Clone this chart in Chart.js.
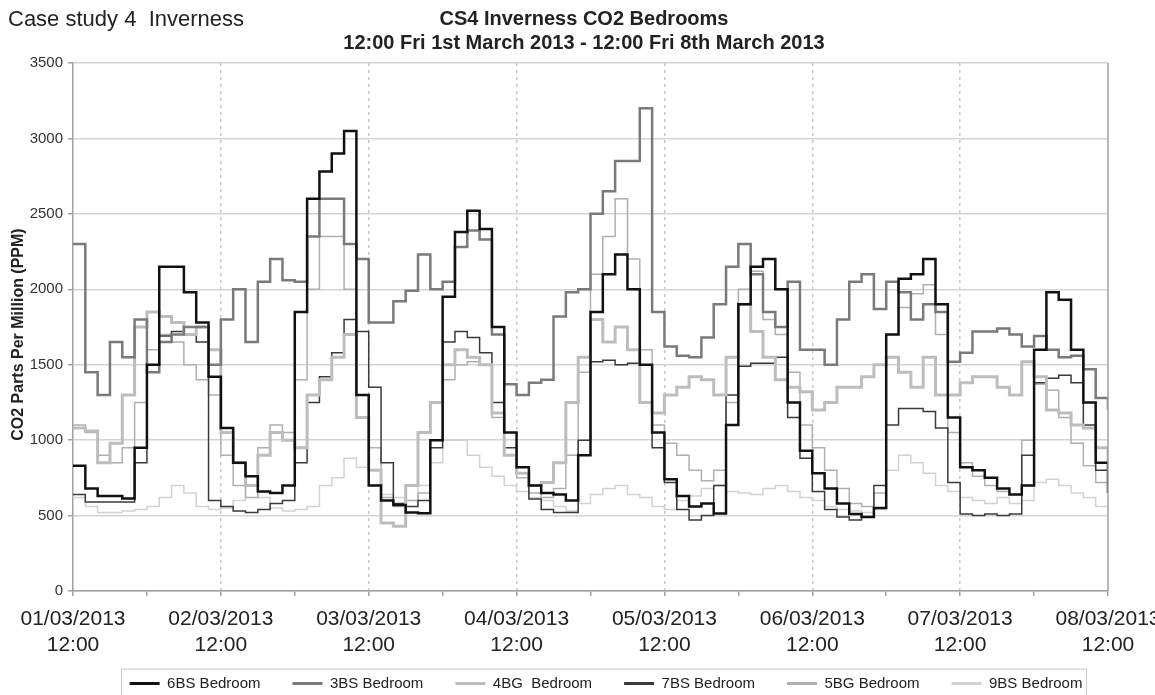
<!DOCTYPE html>
<html>
<head>
<meta charset="utf-8">
<script src="https://cdn.jsdelivr.net/npm/chart.js@4.4.0/dist/chart.umd.min.js"></script>
<style>
  html, body { margin: 0; padding: 0; background: #fff; overflow: hidden; }
  #wrap { position: relative; width: 1175px; height: 716px; }
  #note { position: absolute; left: 8px; top: 6px; font: 22px "Liberation Sans", Arial, sans-serif; color: #222; }
</style>
</head>
<body>
<div id="wrap">
  <canvas id="chart" width="1175" height="716"></canvas>
  <div id="note">Case study 4&nbsp; Inverness</div>
</div>
<script>
// hours since 12:00 Fri 1st March 2013
const hours = [0,2,4,6,8,10,12,14,16,18,20,22,24,26,28,30,32,34,36,38,40,42,44,46,48,50,52,54,56,58,
  60,62,64,66,68,70,72,74,76,78,80,82,84,86,88,90,92,94,96,98,100,102,104,106,108,110,112,114,116,118,
  120,122,124,126,128,130,132,134,136,138,140,142,144,146,148,150,152,154,156,158,160,162,164,166,168];

const dayLabels = ['01/03/2013','02/03/2013','03/03/2013','04/03/2013','05/03/2013','06/03/2013','07/03/2013','08/03/2013'];
const timeLabel = '12:00';
const yTicks = [0,500,1000,1500,2000,2500,3000,3500];
const yTitle = 'CO2 Parts Per Million (PPM)';

// CO2 ppm, every 2 hours (each value holds until the next reading)
const bed6BS = [830,680,630,630,613,950,1500,2150,2150,1980, 1780,1420,1080,850,760,660,650,700,1850,2600,
  2780,2900,3050,1300,700,600,570,520,515,1000, 1950,2380,2520,2400,1750,1050,820,700,650,640,
  600,900,1850,2100,2230,2000,1500,1050,740,630, 560,580,513,1100,1900,2150,2200,2000,1250,930,
  780,680,580,510,490,550,1700,2070,2100,2200, 1900,1150,820,800,750,680,640,700,1600,1980,
  1930,1600,1250,850,650];
const bed3BS = [2300,1450,1300,1650,1550,1800,1450,1650,1700,1750, 1750,1500,1800,2000,1650,2050,2200,2060,2050,2350,
  2600,2600,2300,2200,1780,1780,1920,1990,2230,2000, 2050,2280,2390,2330,1700,1370,1300,1380,1400,1820,
  1980,2000,2500,2650,2850,2850,3200,1850,1620,1560, 1550,1680,1900,2150,2300,2100,1850,1750,2050,1600,
  1600,1500,1800,2050,2100,1870,2050,1980,1800,1900, 1850,1520,1580,1720,1720,1740,1700,1620,1690,1600,
  1550,1560,1470,1280,1200];
const bed4BG = [1080,1060,850,980,1300,1750,1850,1820,1780,1700, 1750,1600,1050,850,700,900,1050,1000,950,1300,
  1400,1550,1700,1150,800,450,430,700,1050,1250, 1500,1600,1550,1500,1180,900,780,700,720,850,
  1250,1550,1800,1650,1750,1600,1250,1180,1300,1350, 1420,1400,1300,1550,1900,1720,1550,1400,1350,1320,
  1200,1250,1350,1350,1420,1500,1550,1450,1350,1550, 1300,1300,1380,1420,1420,1350,1300,1520,1420,1200,
  1180,1100,1080,950,850];
const bed7BS = [640,590,590,590,590,850,1450,1690,1720,1700, 1650,600,560,530,520,540,580,600,850,1250,
  1420,1580,1800,1720,1350,850,580,560,600,950, 1650,1720,1680,1580,1250,950,780,610,540,520,
  520,1000,1520,1530,1500,1510,1250,950,720,540, 470,500,700,1300,1490,1510,1510,1550,1150,880,
  660,540,490,470,490,700,1100,1210,1210,1190, 1080,720,510,500,510,500,510,900,1380,1410,
  1430,1380,1100,800,700];
const bed5BG = [1100,1050,900,850,950,1250,1600,1700,1650,1500, 1400,1300,900,700,620,950,1100,1050,1400,2000,
  2350,2350,2000,1300,950,620,560,600,650,1000, 1400,1500,1520,1500,1150,900,750,650,620,680,
  900,1450,2100,2350,2600,2200,1600,1100,980,900, 800,730,800,1250,2000,2120,1800,1700,1450,1100,
  950,800,680,580,560,650,1700,1880,1970,2030, 1700,1050,850,760,700,660,640,1000,1370,1330,
  1150,980,830,720,660];
const bed9BS = [620,560,520,520,530,540,560,620,700,650, 560,540,550,600,700,620,550,530,540,560,
  700,750,880,820,700,640,620,600,700,850, 1000,1000,900,820,760,700,660,620,600,560,
  530,580,640,680,700,640,620,560,540,600, 630,680,700,660,650,640,680,700,660,620,
  600,560,540,530,520,540,800,900,850,780, 700,660,620,600,580,620,580,600,720,740,
  700,650,620,560,540];

function pts(vals) {
  return hours.map((h, i) => ({ x: h, y: vals[i] }));
}
function series(label, vals, color, width) {
  return {
    label: label,
    data: pts(vals),
    borderColor: color,
    backgroundColor: color,
    borderWidth: width,
    stepped: 'before',
    pointRadius: 0,
    fill: false
  };
}

// nudges title and legend, draws the right edge, the legend box and the y title
const framePlugin = {
  id: 'frame',
  afterLayout(chart) {
    const lg = chart.legend;
    lg.left += 52;
    lg.right += 52;
    lg.top -= 15;
    lg.bottom -= 15;
    chart.titleBlock.left += 30;
    chart.titleBlock.right += 30;
  },
  afterDraw(chart) {
    const ctx = chart.ctx;
    const a = chart.chartArea;
    ctx.save();
    ctx.strokeStyle = '#a0a0a0';
    ctx.lineWidth = 1.5;
    ctx.beginPath();
    ctx.moveTo(a.right, a.top);
    ctx.lineTo(a.right, a.bottom);
    ctx.stroke();
    const boxes = chart.legend.legendHitBoxes;
    if (boxes && boxes.length) {
      const first = boxes[0], last = boxes[boxes.length - 1];
      const l = first.left - 8, r = last.left + last.width + 4;
      const t = first.top - 7;
      ctx.strokeStyle = '#c8c8c8';
      ctx.lineWidth = 1;
      ctx.strokeRect(l, t, r - l, 40);
    }
    const yMid = chart.scales.y.getPixelForValue(1700);
    ctx.translate(19, yMid);
    ctx.rotate(-Math.PI / 2);
    ctx.fillStyle = '#222';
    ctx.font = 'bold 16px "Liberation Sans"';
    ctx.textAlign = 'center';
    ctx.textBaseline = 'middle';
    ctx.fillText(yTitle, 0, 0);
    ctx.restore();
  }
};

new Chart(document.getElementById('chart'), {
  type: 'line',
  data: {
    datasets: [
      series('6BS Bedroom', bed6BS, '#111111', 2.5),
      series('3BS Bedroom', bed3BS, '#7a7a7a', 2.5),
      series('4BG  Bedroom', bed4BG, '#bdbdbd', 3),
      series('7BS Bedroom', bed7BS, '#3a3a3a', 1.5),
      series('5BG Bedroom', bed5BG, '#b0b0b0', 1.5),
      series('9BS Bedroom', bed9BS, '#d2d2d2', 1.5)
    ]
  },
  options: {
    responsive: false,
    animation: false,
    layout: { padding: { left: 0, right: 67, top: 0, bottom: 0 } },
    plugins: {
      title: {
        display: true,
        text: ['CS4 Inverness CO2 Bedrooms', '12:00 Fri 1st March 2013 - 12:00 Fri 8th March 2013'],
        color: '#222',
        font: { family: 'Liberation Sans', size: 20, weight: 'bold', lineHeight: 1.2 },
        padding: { top: 7, bottom: 8 }
      },
      legend: {
        position: 'bottom',
        labels: {
          usePointStyle: true,
          pointStyle: 'line',
          pointStyleWidth: 30,
          padding: 32,
          color: '#222',
          font: { family: 'Liberation Sans', size: 15 },
          generateLabels(chart) {
            const items = Chart.defaults.plugins.legend.labels.generateLabels(chart);
            items.forEach(it => { it.lineWidth = 3; });
            return items;
          }
        }
      },
      tooltip: { enabled: false }
    },
    scales: {
      x: {
        type: 'linear',
        min: 0,
        max: 168,
        afterFit(scale) { scale.height = 68; },
        ticks: {
          stepSize: 12,
          autoSkip: false,
          maxRotation: 0,
          padding: 11,
          color: '#222',
          font: { family: 'Liberation Sans', size: 21 },
          callback(v) {
            if (v % 24 !== 0) return '';
            return [dayLabels[v / 24], timeLabel];
          }
        },
        grid: {
          color: ctx => (ctx.tick && ctx.tick.value % 24 === 0 && ctx.tick.value > 0 && ctx.tick.value < 168) ? '#c8c8c8' : 'rgba(0,0,0,0)',
          lineWidth: 1.5,
          drawTicks: true,
          tickLength: 5,
          tickColor: '#a0a0a0',
          tickWidth: 1.5
        },
        border: { display: true, color: '#a0a0a0', width: 1.5, dash: [3, 4] }
      },
      y: {
        min: 0,
        max: 3500,
        afterFit(scale) { scale.width = 73; },
        afterBuildTicks(scale) { scale.ticks = yTicks.map(v => ({ value: v })); },
        ticks: {
          padding: 5,
          color: '#333',
          font: { family: 'Liberation Sans', size: 15 },
          callback: v => String(v)
        },
        grid: {
          color: '#d4d4d4',
          lineWidth: 1.5,
          drawTicks: true,
          tickLength: 5,
          tickColor: '#a0a0a0'
        },
        border: { display: true, color: '#a0a0a0', width: 1.5 }
      }
    }
  },
  plugins: [framePlugin]
});
</script>
</body>
</html>
